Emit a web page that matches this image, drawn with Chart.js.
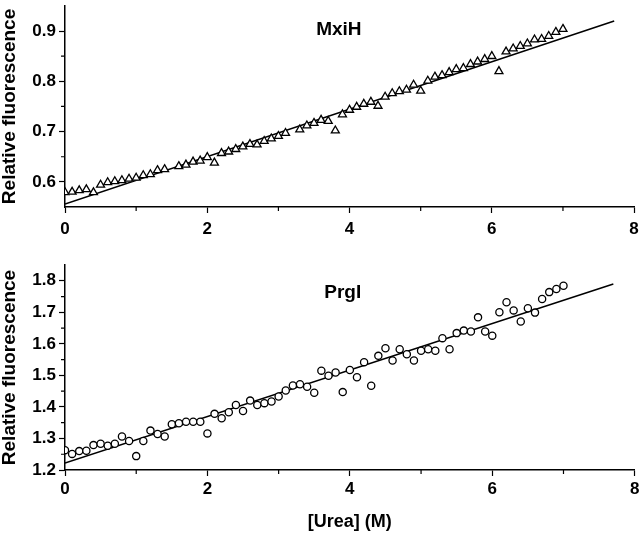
<!DOCTYPE html>
<html>
<head>
<meta charset="utf-8">
<script src="https://cdn.jsdelivr.net/npm/chart.js@4.4.1/dist/chart.umd.min.js"></script>
<style>
  html, body { margin: 0; padding: 0; background: #fff; }
  #wrap { position: relative; width: 640px; height: 533px; }
  canvas { position: absolute; left: 0; }
  #topChart { top: 0; }
  #bottomChart { top: 240px; }
</style>
</head>
<body>
<div id="wrap">
  <canvas id="topChart" width="640" height="240"></canvas>
  <canvas id="bottomChart" width="640" height="293"></canvas>
</div>
<script>
// MxiH panel (triangles); no readings at 1.5 and 3.2 M
const mxihUrea = [0.0, 0.1, 0.2, 0.3, 0.4, 0.5, 0.6, 0.7, 0.8, 0.9, 1.0, 1.1, 1.2, 1.3, 1.4, 1.6, 1.7, 1.8, 1.9,
  2.0, 2.1, 2.2, 2.3, 2.4, 2.5, 2.6, 2.7, 2.8, 2.9, 3.0, 3.1, 3.3, 3.4, 3.5, 3.6, 3.7, 3.8, 3.9,
  4.0, 4.1, 4.2, 4.3, 4.4, 4.5, 4.6, 4.7, 4.8, 4.9, 5.0, 5.1, 5.2, 5.3, 5.4, 5.5, 5.6, 5.7, 5.8, 5.9,
  6.0, 6.1, 6.2, 6.3, 6.4, 6.5, 6.6, 6.7, 6.8, 6.9, 7.0];
const mxihFluor = [0.579, 0.580, 0.583, 0.585, 0.579, 0.594, 0.599, 0.601, 0.603, 0.606, 0.608, 0.613, 0.615, 0.623, 0.625, 0.631, 0.634, 0.640, 0.642,
  0.649, 0.638, 0.657, 0.660, 0.665, 0.670, 0.675, 0.674, 0.681, 0.686, 0.691, 0.697, 0.704, 0.712, 0.717, 0.723, 0.721, 0.702, 0.734,
  0.743, 0.749, 0.755, 0.759, 0.751, 0.769, 0.776, 0.780, 0.783, 0.793, 0.781, 0.801, 0.809, 0.812, 0.818, 0.824, 0.826, 0.834, 0.839, 0.844,
  0.850, 0.820, 0.859, 0.865, 0.870, 0.875, 0.883, 0.884, 0.890, 0.898, 0.904];
const mxihFitX = [0, 7.72];
const mxihFitY = [0.556, 0.920];

// PrgI panel (circles)
const prgiUrea = [0.0, 0.1, 0.2, 0.3, 0.4, 0.5, 0.6, 0.7, 0.8, 0.9, 1.0, 1.1, 1.2, 1.3, 1.4, 1.5, 1.6, 1.7, 1.8, 1.9,
  2.0, 2.1, 2.2, 2.3, 2.4, 2.5, 2.6, 2.7, 2.8, 2.9, 3.0, 3.1, 3.2, 3.3, 3.4, 3.5, 3.6, 3.7, 3.8, 3.9,
  4.0, 4.1, 4.2, 4.3, 4.4, 4.5, 4.6, 4.7, 4.8, 4.9, 5.0, 5.1, 5.2, 5.3, 5.4, 5.5, 5.6, 5.7, 5.8, 5.9,
  6.0, 6.1, 6.2, 6.3, 6.4, 6.5, 6.6, 6.7, 6.8, 6.9, 7.0];
const prgiFluor = [1.263, 1.251, 1.260, 1.261, 1.279, 1.283, 1.277, 1.283, 1.306, 1.292, 1.244, 1.292, 1.325, 1.314, 1.306, 1.345, 1.348, 1.353, 1.353, 1.353,
  1.316, 1.378, 1.364, 1.383, 1.406, 1.387, 1.420, 1.406, 1.412, 1.417, 1.433, 1.452, 1.468, 1.472, 1.464, 1.445, 1.515, 1.499, 1.509, 1.447,
  1.517, 1.494, 1.542, 1.467, 1.562, 1.586, 1.547, 1.583, 1.567, 1.547, 1.578, 1.583, 1.578, 1.618, 1.583, 1.634, 1.642, 1.639, 1.684, 1.639,
  1.626, 1.700, 1.732, 1.706, 1.671, 1.713, 1.699, 1.742, 1.764, 1.774, 1.784];
const prgiFitX = [0, 7.7];
const prgiFitY = [1.222, 1.790];

// axis ticks
const ureaTicks = [0, 2, 4, 6, 8];
const ureaMinor = [1, 3, 5, 7];
const mxihTicks = [0.6, 0.7, 0.8, 0.9];
const mxihMinor = [0.65, 0.75, 0.85];
const prgiTicks = [1.2, 1.3, 1.4, 1.5, 1.6, 1.7, 1.8];
const prgiMinor = [1.25, 1.35, 1.45, 1.55, 1.65, 1.75];

const FONT = '"Liberation Sans", Arial, Helvetica, sans-serif';
Chart.defaults.font.family = FONT;
Chart.defaults.color = '#000';

const toPoints = (xs, ys) => xs.map((x, i) => ({ x, y: ys[i] }));

// small outward ticks between the labelled ones
const minorTicksPlugin = {
  id: 'minorTicks',
  afterDraw(chart, args, opts) {
    const { ctx } = chart;
    const xs = chart.scales.x, ys = chart.scales.y;
    ctx.save();
    ctx.strokeStyle = '#000';
    ctx.lineWidth = 1.2;
    ctx.beginPath();
    (opts.x || []).forEach(v => {
      const px = xs.getPixelForValue(v);
      ctx.moveTo(px, xs.top);
      ctx.lineTo(px, xs.top + 4);
    });
    (opts.y || []).forEach(v => {
      const py = ys.getPixelForValue(v);
      ctx.moveTo(ys.right, py);
      ctx.lineTo(ys.right - 4, py);
    });
    ctx.stroke();
    ctx.restore();
  },
};

const panelLabelPlugin = {
  id: 'panelLabel',
  afterDraw(chart, args, opts) {
    if (!opts.text) return;
    const { ctx } = chart;
    ctx.save();
    ctx.font = `bold 19px ${FONT}`;
    ctx.fillStyle = '#000';
    ctx.textAlign = 'center';
    ctx.textBaseline = 'middle';
    ctx.fillText(opts.text, chart.scales.x.getPixelForValue(opts.x), chart.scales.y.getPixelForValue(opts.y));
    ctx.restore();
  },
};

function buildPanel(id, p) {
  return new Chart(document.getElementById(id), {
    type: 'scatter',
    data: {
      datasets: [
        {
          label: 'fit',
          type: 'line',
          data: toPoints(p.fitX, p.fitY),
          borderColor: '#000',
          borderWidth: 1.5,
          pointRadius: 0,
          fill: false,
          order: 2,
        },
        {
          label: p.label,
          data: toPoints(p.xs, p.ys),
          pointStyle: p.style,
          pointRadius: p.radius,
          pointBorderColor: '#000',
          pointBackgroundColor: '#fff',
          pointBorderWidth: 1.3,
          order: 1,
        },
      ],
    },
    options: {
      responsive: false,
      animation: false,
      devicePixelRatio: 1,
      layout: { padding: { top: p.padTop, right: 5, left: 0, bottom: 0 } },
      plugins: {
        legend: { display: false },
        tooltip: { enabled: false },
        minorTicks: { x: ureaMinor, y: p.minor },
        panelLabel: { text: p.label, x: p.labelX, y: p.labelY },
      },
      scales: {
        x: {
          type: 'linear',
          min: 0,
          max: 8,
          afterBuildTicks: s => { s.ticks = ureaTicks.map(v => ({ value: v })); },
          afterFit: s => {
            s.height = p.xHeight;
            // let the "8" label hang into the right margin like the original
            s.paddingRight = 0;
            s.paddingLeft = 0;
          },
          border: { display: true, color: '#000', width: 1.5 },
          grid: { display: true, drawOnChartArea: false, tickLength: 6, color: '#000', tickWidth: 1.2 },
          ticks: { font: { size: 17, weight: 'bold' }, padding: p.xPad, autoSkip: false, maxRotation: 0 },
          title: p.xTitle
            ? { display: true, text: '[Urea] (M)', font: { size: 18, weight: 'bold' }, padding: 0 }
            : { display: false },
        },
        y: {
          type: 'linear',
          min: p.yMin,
          max: p.yMax,
          afterBuildTicks: s => { s.ticks = p.ticks.map(v => ({ value: v })); },
          afterFit: s => { s.width = 65; s.paddingTop = 0; s.paddingBottom = 0; },
          border: { display: true, color: '#000', width: 1.5 },
          grid: { display: true, drawOnChartArea: false, tickLength: 6, color: '#000', tickWidth: 1.2 },
          ticks: { font: { size: 17, weight: 'bold' }, padding: 3, callback: v => v.toFixed(1) },
          title: {
            display: true,
            text: 'Relative fluorescence',
            font: { size: 19, weight: 'bold', lineHeight: 1 },
            padding: { top: 0, bottom: 0 },
          },
        },
      },
    },
    plugins: [minorTicksPlugin, panelLabelPlugin],
  });
}

buildPanel('topChart', {
  label: 'MxiH', labelX: 3.85, labelY: 0.902,
  xs: mxihUrea, ys: mxihFluor, fitX: mxihFitX, fitY: mxihFitY,
  style: 'triangle', radius: 4.6,
  yMin: 0.55, yMax: 0.95, ticks: mxihTicks, minor: mxihMinor,
  padTop: 0, xHeight: 33, xTitle: false, xPad: 6,
});

buildPanel('bottomChart', {
  label: 'PrgI', labelX: 3.9, labelY: 1.762,
  xs: prgiUrea, ys: prgiFluor, fitX: prgiFitX, fitY: prgiFitY,
  style: 'circle', radius: 3.6,
  yMin: 1.2, yMax: 1.85, ticks: prgiTicks, minor: prgiMinor,
  padTop: 25, xHeight: 63, xTitle: true, xPad: 3,
});
</script>
</body>
</html>
